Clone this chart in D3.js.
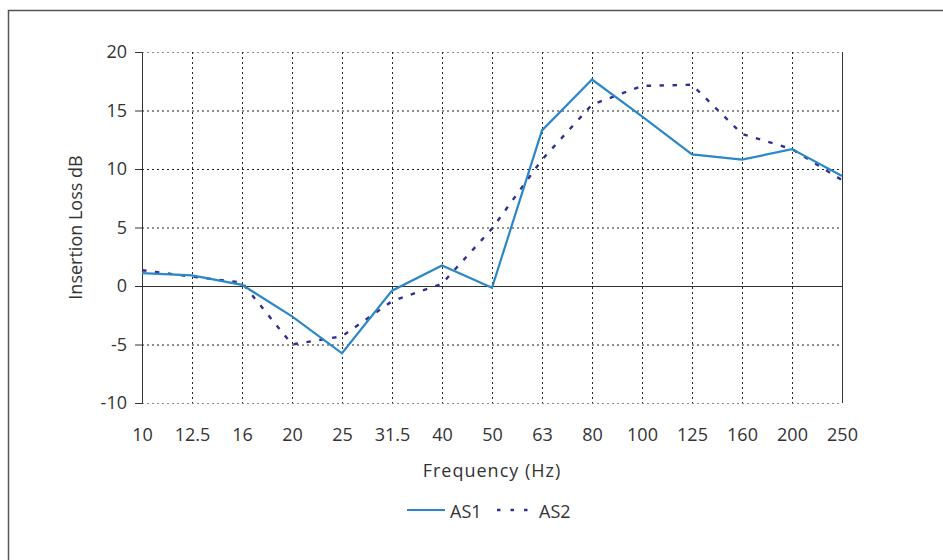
<!DOCTYPE html>
<html>
<head>
<meta charset="utf-8">
<script src="https://cdn.jsdelivr.net/npm/d3@7"></script>
<style>
  body { margin: 0; background: #fff; }
  text { font-family: "Open Sans", sans-serif; fill: #333; }
</style>
</head>
<body>
<svg id="chart"></svg>
<script>
// data //
var freqs = ["10", "12.5", "16", "20", "25", "31.5", "40", "50", "63", "80", "100", "125", "160", "200", "250"];
var as1 = [1.1, 0.9, 0.1, -2.6, -5.75, -0.4, 1.75, -0.15, 13.3, 17.65, 14.5, 11.25, 10.8, 11.7, 9.4];
var as2 = [1.35, 0.8, 0.3, -5.0, -4.3, -1.3, 0.2, 4.9, 10.8, 15.5, 17.1, 17.2, 13.0, 11.7, 9.05];
var yTicks = [-10, -5, 0, 5, 10, 15, 20];

var screen = { width: 943, height: 560 };
var margins = { top: 52, left: 142, right: 101, bottom: 157 };
var graph = {
  width: screen.width - margins.left - margins.right,
  height: screen.height - margins.top - margins.bottom
};
var fontSize = "18px";
var c1 = "#2a87c8", c2 = "#2e3192";

var svg = d3.select("#chart").attr("width", screen.width).attr("height", screen.height);

// outer frame (top + left only)
svg.append("path")
  .attr("d", "M8.5,560 L8.5,10.5 L943,10.5")
  .attr("fill", "none")
  .attr("stroke", "#555")
  .attr("stroke-width", 1.5);

var xScale = d3.scalePoint().domain(freqs).range([0, graph.width]);
var yScale = d3.scaleLinear().domain([-10, 20]).range([graph.height, 0]);

var g = svg.append("g")
  .attr("transform", "translate(" + margins.left + "," + margins.top + ")");

// horizontal grid
g.append("g").selectAll("line")
  .data(yTicks.filter(function (d) { return d !== 0; }))
  .enter().append("line")
  .attr("x1", 0).attr("x2", graph.width)
  .attr("y1", function (d) { return yScale(d) + 0.5; })
  .attr("y2", function (d) { return yScale(d) + 0.5; })
  .attr("stroke", function (d) { return d === 20 || d === -10 ? "#888" : "#222"; })
  .attr("stroke-width", 1)
  .attr("stroke-dasharray", "2,3");

// vertical grid
g.append("g").selectAll("line")
  .data(freqs.slice(1, -1))
  .enter().append("line")
  .attr("x1", function (d) { return xScale(d) + 0.5; })
  .attr("x2", function (d) { return xScale(d) + 0.5; })
  .attr("y1", 0).attr("y2", graph.height)
  .attr("stroke", "#222")
  .attr("stroke-dasharray", "2,3");

// right border
g.append("line")
  .attr("x1", graph.width + 0.5).attr("x2", graph.width + 0.5)
  .attr("y1", 0).attr("y2", graph.height)
  .attr("stroke", "#333");

// zero line
g.append("line")
  .attr("x1", 0).attr("x2", graph.width)
  .attr("y1", yScale(0) + 0.5).attr("y2", yScale(0) + 0.5)
  .attr("stroke", "#333");

// y axis
var yAxis = d3.axisLeft(yScale).tickValues(yTicks).tickFormat(String).tickSize(7).tickPadding(8);
var yG = g.append("g").call(yAxis);
yG.select(".domain").attr("stroke", "#333");
yG.selectAll(".tick line").attr("stroke", "#333");
yG.selectAll("text").style("font-size", fontSize).style("font-family", "'Open Sans', sans-serif").attr("fill", "#333");

// x axis labels
var xAxis = d3.axisBottom(xScale).tickSize(0).tickPadding(25);
var xG = g.append("g").attr("transform", "translate(0," + graph.height + ")").call(xAxis);
xG.select(".domain").remove();
xG.selectAll("text").style("font-size", fontSize).style("font-family", "'Open Sans', sans-serif").attr("fill", "#333");

// lines
var line = function (vals) {
  return d3.line()
    .x(function (d, i) { return xScale(freqs[i]); })
    .y(function (d) { return yScale(d); })(vals);
};

g.append("path")
  .attr("d", line(as2))
  .attr("fill", "none")
  .attr("stroke", c2)
  .attr("stroke-width", 2.4)
  .attr("stroke-dasharray", "4.5,8.5");

g.append("path")
  .attr("d", line(as1))
  .attr("fill", "none")
  .attr("stroke", c1)
  .attr("stroke-width", 2.2);

// labels
svg.append("text")
  .text("Frequency (Hz)")
  .attr("text-anchor", "middle")
  .attr("x", margins.left + graph.width / 2)
  .attr("y", 477)
  .style("letter-spacing", "1px")
  .style("font-size", fontSize);

svg.append("g")
  .attr("transform", "translate(82," + (margins.top + graph.height / 2) + ")")
  .append("text")
  .text("Insertion Loss dB")
  .attr("text-anchor", "middle")
  .attr("transform", "rotate(-90)")
  .style("font-size", fontSize);

// legend
var legend = svg.append("g").attr("transform", "translate(0,510)");
legend.append("line")
  .attr("x1", 407).attr("x2", 445).attr("y1", 0).attr("y2", 0)
  .attr("stroke", c1).attr("stroke-width", 2.2);
legend.append("text").text("AS1").attr("x", 450).attr("y", 8).style("font-size", fontSize);
legend.append("line")
  .attr("x1", 497).attr("x2", 530).attr("y1", 0).attr("y2", 0)
  .attr("stroke", c2).attr("stroke-width", 2.4).attr("stroke-dasharray", "3.5,10");
legend.append("text").text("AS2").attr("x", 539).attr("y", 8).style("font-size", fontSize);
</script>
</body>
</html>
